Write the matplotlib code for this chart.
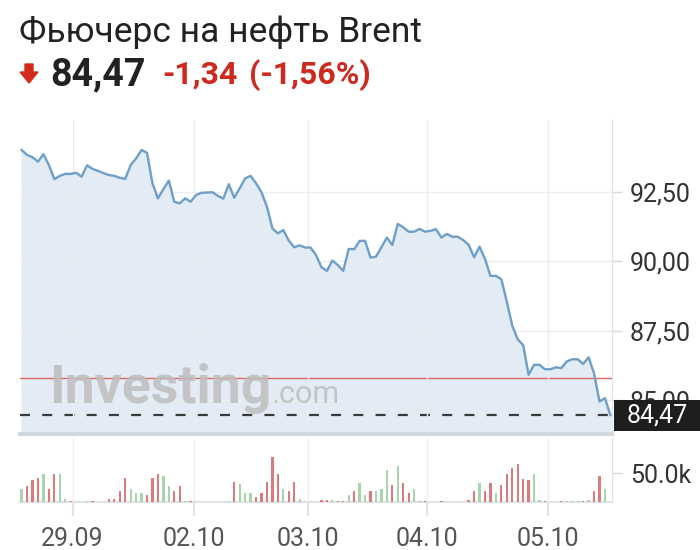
import numpy as np
import matplotlib.pyplot as plt
import matplotlib.transforms as mtransforms
from matplotlib.patches import Polygon, Rectangle

plt.rcParams['font.family'] = ['Roboto', 'DejaVu Sans']

# hourly closes, oldest first
prices = [94.01, 93.83, 93.75, 93.59, 93.86, 93.47, 92.96, 93.08, 93.15, 93.15,
          93.19, 93.05, 93.46, 93.33, 93.26, 93.18, 93.11, 93.08, 93.01, 92.97,
          93.47, 93.71, 94.01, 93.91, 92.81, 92.27, 92.60, 92.91, 92.15, 92.09,
          92.27, 92.15, 92.39, 92.47, 92.48, 92.49, 92.36, 92.26, 92.78, 92.29,
          92.63, 92.99, 93.08, 92.81, 92.49, 91.97, 91.19, 91.01, 91.13, 90.75,
          90.51, 90.58, 90.50, 90.50, 90.23, 89.79, 89.66, 90.03, 89.87, 89.66,
          90.45, 90.44, 90.74, 90.74, 90.14, 90.17, 90.51, 90.86, 90.59, 91.35,
          91.23, 91.07, 91.07, 91.17, 91.07, 91.10, 91.16, 90.86, 90.99, 90.89,
          90.89, 90.77, 90.60, 90.15, 90.53, 90.09, 89.48, 89.48, 89.36, 88.55,
          87.69, 87.20, 86.99, 85.92, 86.28, 86.28, 86.12, 86.12, 86.19, 86.16,
          86.40, 86.48, 86.48, 86.31, 86.55, 85.98, 84.96, 85.08, 84.47]

# volume in thousands
volume = [23, 27, 38, 42, 49, 23, 49, 49, 5, 2,
          0, 0, 2, 2, 0, 0, 5, 5, 19, 42,
          23, 16, 16, 12, 42, 49, 45, 28, 19, 28,
          2, 2, 0, 0, 0, 0, 0, 0, 2, 35,
          31, 16, 16, 9, 16, 35, 78, 49, 23, 19,
          35, 5, 0, 0, 0, 4, 4, 4, 1, 1,
          12, 19, 33, 12, 19, 19, 23, 56, 30, 63,
          33, 16, 23, 1, 1, 0, 0, 1, 0, 0,
          0, 0, 4, 19, 33, 19, 33, 16, 30, 49,
          59, 66, 40, 38, 49, 4, 1, 0, 0, 1,
          1, 1, 1, 1, 4, 19, 45, 23, 0]

# 1 = up candle (green), 0 = down candle (red)
vol_up = [1, 0, 0, 0, 1, 0, 0, 1, 1, 0,
          0, 0, 1, 0, 0, 0, 0, 0, 0, 0,
          1, 1, 1, 0, 0, 0, 1, 1, 0, 0,
          1, 0, 0, 0, 0, 0, 0, 0, 1, 0,
          1, 1, 1, 0, 0, 0, 0, 0, 1, 0,
          0, 1, 0, 0, 0, 0, 0, 1, 0, 0,
          1, 0, 1, 1, 0, 1, 1, 1, 0, 1,
          0, 0, 1, 1, 0, 0, 0, 0, 0, 0,
          0, 0, 0, 0, 1, 0, 0, 1, 0, 0,
          0, 0, 0, 0, 1, 1, 0, 0, 0, 0,
          1, 1, 1, 0, 1, 0, 0, 1, 0]

tick_pos = [9.35, 31.55, 52.6, 74.4, 96.6]
tick_labels = ['29.09', '02.10', '03.10', '04.10', '05.10']
price_ticks = [85.0, 87.5, 90.0, 92.5]

last_price = 84.47
change = -1.34
change_pct = -1.56
prev_close = last_price - change

W, H = 700, 550


def fx(x):
    return x / W


def fy(y):
    return 1 - y / H


def fmt(v, nd=2):
    return f'{v:.{nd}f}'.replace('.', ',')


fig = plt.figure(figsize=(W / 100, H / 100), dpi=100)

# header
fig.text(fx(19), fy(42), 'Фьючерс на нефть Brent', fontsize=25.5, color='#222222', va='baseline')
arrow = Polygon([(fx(25), fy(64)), (fx(33), fy(64)), (fx(33), fy(72)), (fx(38), fy(72)),
                 (fx(29), fy(83)), (fx(20), fy(72)), (fx(25), fy(72))],
                closed=True, transform=fig.transFigure, color='#d42a1c')
fig.patches.append(arrow)
fig.text(fx(50), fy(85), fmt(last_price), fontsize=27, fontweight='bold', color='#222222', va='baseline')
fig.text(fx(162), fy(84), fmt(change), fontsize=23, fontweight='bold', color='#cc2a1f', va='baseline')
fig.text(fx(249), fy(84), '(' + fmt(change_pct) + '%)', fontsize=23, fontweight='bold',
         color='#cc2a1f', va='baseline')

x = np.arange(len(prices))
xlim = (-0.3, 108.3)

# price panel
ax = fig.add_axes([fx(20), fy(434), fx(612) - fx(20), fy(120) - fy(434)])
ylo, yhi = 83.79, 95.09
ax.fill_between(x, prices, ylo, color='#e3ecf5', zorder=1)
ax.plot(x, prices, color='#6e9fc8', lw=1.7, zorder=3)
ax.axhline(prev_close, color='#e06666', lw=1, zorder=2)
ax.axhline(last_price, color='#3a3a3a', lw=1.6, dashes=(4.5, 5.5), zorder=2)
for t in tick_pos:
    ax.axvline(t, color='#e9edf1', lw=1, zorder=2)
for p in price_ticks:
    ax.axhline(p, color='#eaeef2', lw=1, zorder=2)
ax.set_xlim(*xlim)
ax.set_ylim(ylo, yhi)
ax.set_xticks([])
ax.set_yticks(price_ticks)
ax.set_yticklabels([fmt(p) for p in price_ticks])
ax.yaxis.tick_right()
ax.tick_params(axis='y', length=7, width=1, color='#d5d9dd', labelsize=18,
               labelcolor='#333333', pad=6)
for s in ['top', 'left']:
    ax.spines[s].set_visible(False)
ax.spines['right'].set_color('#dfe3e7')
ax.spines['bottom'].set_color('#d2d7dc')
ax.spines['bottom'].set_linewidth(3)

# watermark
ax.text(0.05, 0.10, 'Investing', transform=ax.transAxes, fontsize=38.5,
        fontweight='bold', color='#bdbdbd', alpha=0.85, va='baseline', zorder=4)
ax.text(0.425, 0.10, '.com', transform=ax.transAxes, fontsize=22,
        color='#bdbdbd', alpha=0.85, va='baseline', zorder=4)

# last price label box on the right
box_tr = mtransforms.blended_transform_factory(fig.transFigure, ax.transData)
box_h = (yhi - ylo) * 31 / 314
box = Rectangle((fx(614), last_price - box_h / 2), fx(700) - fx(614), box_h,
                transform=box_tr, facecolor='#1e1e1e', edgecolor='none',
                clip_on=False, zorder=6)
fig.patches.append(box)
fig.text(fx(657), last_price, fmt(last_price), transform=box_tr, fontsize=18, color='white',
         ha='center', va='center', zorder=7)

# volume panel
vax = fig.add_axes([fx(20), fy(502), fx(612) - fx(20), fy(438) - fy(502)])
colors = ['#a8d5ab' if u else '#da7b7e' for u in vol_up]
vax.bar(x, volume, width=0.42, color=colors, zorder=3)
for t in tick_pos:
    vax.axvline(t, color='#eef1f4', lw=1, zorder=1)
vax.set_xlim(*xlim)
vax.set_ylim(0, 111)
vax.set_yticks([50])
vax.set_yticklabels(['50.0k'])
vax.yaxis.tick_right()
vax.tick_params(axis='y', length=7, width=1, color='#d5d9dd', labelsize=18,
                labelcolor='#333333', pad=6)
vax.set_xticks(tick_pos)
vax.set_xticklabels(tick_labels)
vax.tick_params(axis='x', length=10, width=1.5, color='#dfe3e7', labelsize=18,
                labelcolor='#555555', pad=8)
for s in ['top', 'left']:
    vax.spines[s].set_visible(False)
vax.spines['right'].set_color('#dfe3e7')
vax.spines['bottom'].set_color('#dfe3e7')
vax.spines['bottom'].set_linewidth(1.5)

fig.savefig('out.png', dpi=100)
